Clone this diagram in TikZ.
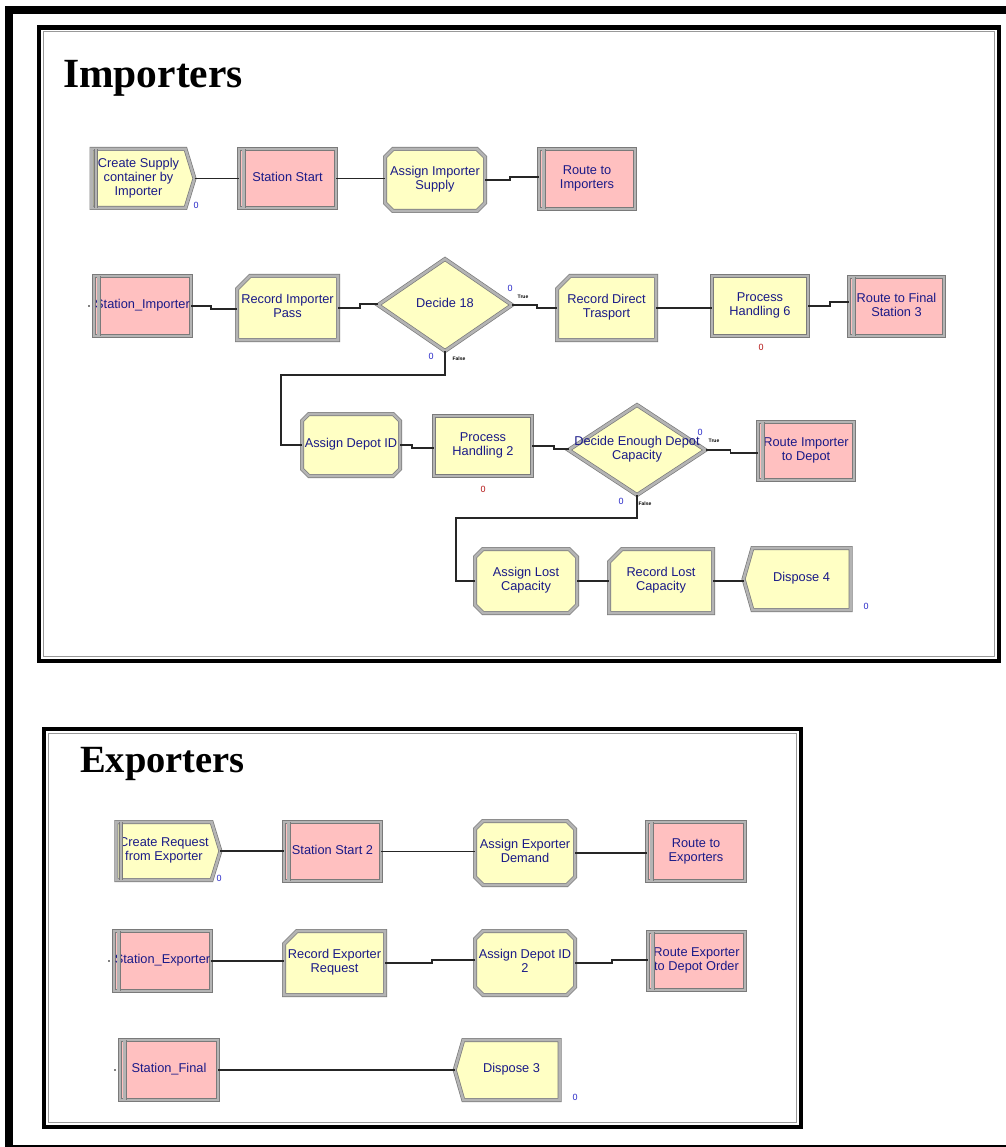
\documentclass[tikz,border=0pt]{standalone}
\usepackage{fontspec}
\setmainfont{Liberation Sans}
\newfontfamily\ttlfont{Liberation Serif}
\usetikzlibrary{shapes.geometric,shapes.misc,shapes.symbols,calc}
\definecolor{yfill}{HTML}{FFFFC4}
\definecolor{pfill}{HTML}{FFC0C0}
\definecolor{navytxt}{HTML}{1A1A88}
\definecolor{cntblue}{HTML}{2828C8}
\definecolor{cntred}{HTML}{B41414}
\definecolor{bevel}{HTML}{B4B4B4}
\definecolor{bevdark}{HTML}{7A7A7A}
\newcommand\mtext[1]{\makebox[0pt][c]{\begin{tabular}{@{}c@{}}#1\end{tabular}}}
\newcommand\jogc[4]{\draw[conn] (#1.east) -- ++(#3,0) |- ($(#2.west |- #1.east)+(0,#4)$);}
\newcommand\strc[2]{\draw[conn] (#1.east) -- (#1.east -| #2.west);}
\tikzset{
  mod/.style={draw=bevdark, double=bevel, double distance=2.6pt, line width=0.7pt,
    inner sep=0pt, outer sep=0pt, font=\fontsize{12.8}{13.8}\selectfont, text=navytxt},
  leftband/.style={append after command={([xshift=4.5pt]\tikzlastnode.north west) edge[draw=bevdark, double=bevel, double distance=2.6pt, line width=0.7pt] ([xshift=4.5pt]\tikzlastnode.south west)}},
  procbox/.style={mod, rectangle, fill=yfill},
  stnbox/.style={mod, rectangle, fill=pfill, leftband},
  asgbox/.style={mod, chamfered rectangle, chamfered rectangle xsep=8pt, chamfered rectangle ysep=8pt, fill=yfill},
  recbox/.style={mod, chamfered rectangle, chamfered rectangle corners=north west, chamfered rectangle xsep=13pt, chamfered rectangle ysep=13pt, fill=yfill},
  crtbox/.style={mod, signal, signal to=east, signal pointer angle=146, fill=yfill},
  dspbox/.style={mod, signal, signal to=west, signal pointer angle=148, fill=yfill},
  decbox/.style={mod, diamond, fill=yfill},
  conn/.style={draw=black!85, line width=1.2pt},
  cnt/.style={inner sep=0pt, font=\fontsize{9}{9}\selectfont, text=cntblue},
  cntr/.style={cnt, text=cntred},
  tf/.style={inner sep=0pt, font=\fontsize{5}{5}\selectfont\bfseries},
  ttl/.style={inner sep=0pt, anchor=base west},
}
\begin{document}
\begin{tikzpicture}[x=1pt,y=-1pt]
\useasboundingbox (0,0) rectangle (1005,1147);
\fill[white] (0,0) rectangle (1005,1147);
% frames
\draw[line width=8pt] (1012,10) -- (9,10) -- (9,1149) -- (1012,1149);
\draw[line width=4.5pt] (39,27.5) rectangle (999,661);
\draw[black!40, line width=1pt] (43.5,32) rectangle (994.5,656.5);
\draw[line width=4.5pt] (44,729) rectangle (801,1127);
\draw[black!40, line width=1pt] (48.5,733.5) rectangle (796.5,1122.5);
% titles
\node[ttl, font=\fontsize{41.5}{42}\ttlfont\bfseries] (timp) at (63,88) {Importers};
\node[ttl, font=\fontsize{38.5}{39}\ttlfont\bfseries] (texp) at (80,772) {Exporters};
% Importers row 1
\node[crtbox, leftband, minimum width=103pt, minimum height=59pt] (cs) at (138.5,178.5) {\mtext{Create Supply\\container by\\Importer}};
\node[stnbox, minimum width=97pt, minimum height=59pt] (ss) at (287.5,178.5) {\mtext{Station Start}};
\node[asgbox, minimum width=100pt, minimum height=62pt] (ais) at (435,180) {\mtext{Assign Importer\\Supply}};
\node[stnbox, minimum width=96pt, minimum height=60pt] (ri) at (587,179) {\mtext{Route to\\Importers}};
% row 2
\node[stnbox, minimum width=97pt, minimum height=60pt] (si) at (142.5,306) {\mtext{Station\_Importer}};
\node[recbox, minimum width=101pt, minimum height=64pt] (rip) at (287.5,308) {\mtext{Record Importer\\Pass}};
\node[decbox, minimum width=134pt, minimum height=92pt] (d18) at (445,305) {\mtext{Decide 18}};
\node[recbox, minimum width=99pt, minimum height=64pt] (rdt) at (606.5,308) {\mtext{Record Direct\\Trasport}};
\node[procbox, minimum width=96pt, minimum height=60pt] (ph6) at (760,306) {\mtext{Process\\Handling 6}};
\node[stnbox, minimum width=95pt, minimum height=59pt] (rfs) at (896.5,306.5) {\mtext{Route to Final\\Station 3}};
% row 3
\node[asgbox, minimum width=98pt, minimum height=62pt] (adi) at (351,445) {\mtext{Assign Depot ID}};
\node[procbox, minimum width=98pt, minimum height=60pt] (ph2) at (483,446) {\mtext{Process\\Handling 2}};
\node[decbox, minimum width=137pt, minimum height=90pt] (dedc) at (637,450) {\mtext{Decide Enough Depot\\Capacity}};
\node[stnbox, minimum width=96pt, minimum height=58pt] (rid) at (806,451) {\mtext{Route Importer\\to Depot}};
% row 4
\node[asgbox, minimum width=102pt, minimum height=64pt] (alc) at (526,581) {\mtext{Assign Lost\\Capacity}};
\node[recbox, minimum width=104pt, minimum height=64pt] (rlc) at (661,581) {\mtext{Record Lost\\Capacity}};
\node[dspbox, minimum width=107pt, minimum height=62pt] (d4) at (801.5,579) {\mtext{Dispose 4}};
% Exporters
\node[crtbox, leftband, minimum width=104pt, minimum height=58pt] (cre) at (164,851) {\mtext{Create Request\\from Exporter}};
\node[stnbox, minimum width=97pt, minimum height=59pt] (ss2) at (332.5,851.5) {\mtext{Station Start 2}};
\node[asgbox, minimum width=100pt, minimum height=64pt] (aed) at (525,853) {\mtext{Assign Exporter\\Demand}};
\node[stnbox, minimum width=98pt, minimum height=59pt] (rte) at (696,851.5) {\mtext{Route to\\Exporters}};
\node[stnbox, minimum width=97pt, minimum height=60pt] (sx) at (162.5,961) {\mtext{Station\_Exporter}};
\node[recbox, minimum width=101pt, minimum height=64pt] (rer) at (334.5,963) {\mtext{Record Exporter\\Request}};
\node[asgbox, minimum width=100pt, minimum height=64pt] (adi2) at (525,963) {\mtext{Assign Depot ID\\2}};
\node[stnbox, minimum width=97pt, minimum height=58pt] (redo) at (696.5,961) {\mtext{Route Exporter\\to Depot Order}};
\node[stnbox, minimum width=98pt, minimum height=60pt] (sf) at (169,1070) {\mtext{Station\_Final}};
\node[dspbox, minimum width=105pt, minimum height=60pt] (d3) at (511.5,1070) {\mtext{Dispose 3}};
% counters and branch labels
\node[cnt] (cs0) at (196,205) {0};
\node[cnt] (d18t0) at (510,288) {0};
\node[tf] (d18tt) at (523,297) {True};
\node[cnt] (d18f0) at (431,356) {0};
\node[tf] (d18ff) at (459,359) {False};
\node[cntr] (ph60) at (761,347) {0};
\node[cntr] (ph20) at (483,489) {0};
\node[cnt] (dedct0) at (700,432) {0};
\node[tf] (dedctt) at (714,441) {True};
\node[cnt] (dedcf0) at (621,501) {0};
\node[tf] (dedcff) at (645,504) {False};
\node[cnt] (d40) at (866,606) {0};
\node[cnt] (cre0) at (219,878) {0};
\node[cnt] (d30) at (575,1097) {0};
% connectors Importers
\strc{cs}{ss}
\strc{ss}{ais}
\jogc{ais}{ri}{25}{-3}
\jogc{si}{rip}{20}{3}
\jogc{rip}{d18}{22}{-4}
\jogc{d18}{rdt}{25}{3}
\strc{rdt}{ph6}
\jogc{ph6}{rfs}{22}{-4}
\draw[conn] (d18.south) -- ++(0,24) -| ($(adi.west)+(-21,0)$) -- (adi.west);
\jogc{adi}{ph2}{12}{3}
\jogc{ph2}{dedc}{22}{3}
\jogc{dedc}{rid}{25}{3}
\draw[conn] (dedc.south) -- ++(0,23) -| ($(alc.west)+(-19,0)$) -- (alc.west);
\strc{alc}{rlc}
\strc{rlc}{d4}
% connectors Exporters
\strc{cre}{ss2}
\strc{ss2}{aed}
\strc{aed}{rte}
\strc{sx}{rer}
\jogc{rer}{adi2}{47}{-3}
\jogc{adi2}{redo}{37}{-3}
\strc{sf}{d3}
% entry dots
\fill[black] ([xshift=-5pt]si.west) circle (0.9pt);
\fill[black] ([xshift=-5pt]sx.west) circle (0.9pt);
\fill[black] ([xshift=-5pt]sf.west) circle (0.9pt);
\end{tikzpicture}
\end{document}
